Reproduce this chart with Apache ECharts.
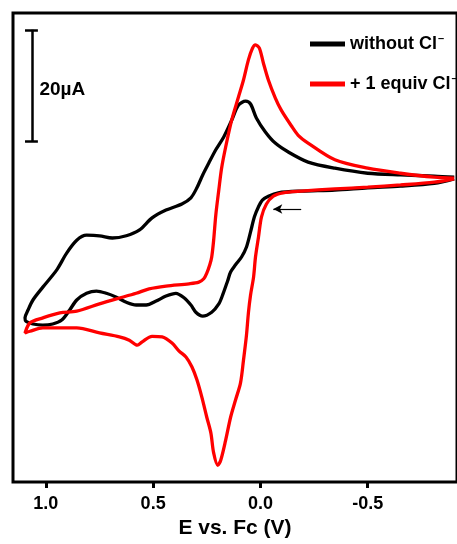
<!DOCTYPE html>
<html>
<head>
<meta charset="utf-8">
<script src="https://cdn.jsdelivr.net/npm/echarts@6/dist/echarts.min.js"></script>
<style>
  html, body { margin: 0; padding: 0; background: #fff; }
  #chart { width: 457px; height: 544px; }
</style>
</head>
<body>
<div id="chart"></div>
<script>
// potential (V vs Fc) and current (uA)
const noClE = [-0.903, -0.810, -0.653, -0.500, -0.347, -0.190, -0.083, -0.037, -0.009, 0.009, 0.028, 0.046, 0.065, 0.088, 0.116, 0.139, 0.153, 0.176, 0.194, 0.227, 0.269, 0.301, 0.324, 0.356, 0.394, 0.440, 0.486, 0.532, 0.579, 0.625, 0.671, 0.718, 0.764, 0.810, 0.856, 0.889, 0.926, 0.968, 1.014, 1.060, 1.093,
  1.097, 1.083, 1.060, 1.014, 0.949, 0.903, 0.856, 0.810, 0.750, 0.690, 0.625, 0.565, 0.505, 0.440, 0.366, 0.324, 0.296, 0.269, 0.241, 0.208, 0.171, 0.134, 0.102, 0.069, 0.046, 0.019, -0.023, -0.069, -0.130, -0.222, -0.347, -0.500, -0.653, -0.810, -0.903];
const noClI = [-6.7, -7.5, -8.0, -8.3, -8.7, -8.9, -9.2, -9.8, -10.5, -11.7, -13.5, -16.2, -18.9, -20.7, -22.1, -23.4, -25.0, -27.5, -29.1, -30.6, -31.3, -30.6, -29.3, -28.0, -27.2, -27.7, -28.6, -29.3, -29.3, -28.8, -27.9, -27.2, -26.8, -27.2, -28.4, -30.2, -32.0, -32.7, -32.9, -32.7, -32.2,
  -31.6, -30.2, -28.4, -26.1, -23.0, -20.0, -17.7, -16.8, -16.9, -17.3, -16.9, -15.9, -13.7, -12.3, -11.2, -10.1, -8.3, -6.0, -3.9, -1.5, 0.8, 3.8, 6.5, 7.2, 6.7, 4.2, 1.7, -0.3, -1.9, -3.7, -4.8, -5.7, -6.0, -6.2, -6.4];

const clE = [-0.903, -0.810, -0.653, -0.500, -0.347, -0.190, -0.106, -0.060, -0.028, -0.005, 0.009, 0.023, 0.032, 0.046, 0.056, 0.065, 0.079, 0.093, 0.116, 0.139, 0.162, 0.185, 0.199, 0.218, 0.231, 0.250, 0.273, 0.296, 0.319, 0.347, 0.380, 0.412, 0.458, 0.505, 0.551, 0.574, 0.611, 0.657, 0.750, 0.856, 1.014, 1.074, 1.097,
  1.074, 1.014, 0.935, 0.856, 0.750, 0.671, 0.579, 0.519, 0.440, 0.333, 0.287, 0.264, 0.250, 0.236, 0.227, 0.218, 0.208, 0.194, 0.181, 0.162, 0.134, 0.102, 0.079, 0.056, 0.037, 0.023, 0.005, -0.014, -0.037, -0.069, -0.097, -0.144, -0.176, -0.222, -0.347, -0.500, -0.653, -0.810, -0.903];
const clI = [-6.7, -7.3, -7.8, -8.2, -8.5, -8.9, -9.2, -9.8, -11.2, -13.5, -17.1, -20.7, -24.3, -27.5, -30.7, -34.7, -39.2, -43.3, -46.3, -49.4, -53.5, -57.1, -58.0, -55.8, -52.2, -49.4, -45.8, -42.7, -40.4, -38.6, -37.5, -36.1, -35.0, -34.9, -35.9, -36.5, -35.6, -35.0, -34.3, -33.4, -33.4, -34.0, -34.3,
  -32.5, -31.6, -30.7, -30.4, -29.1, -28.2, -27.2, -26.4, -25.9, -25.5, -25.2, -24.6, -23.6, -22.1, -20.7, -17.7, -13.2, -8.7, -4.8, -1.0, 3.8, 8.0, 11.0, 14.6, 16.7, 17.3, 16.7, 14.0, 11.0, 7.8, 5.6, 2.8, 1.1, -0.3, -3.3, -4.8, -5.7, -6.4, -6.6];

const seriesNames = ["without Cl\u207B", "+ 1 equiv Cl\u207B"];
const xTicks = [1.0, 0.5, 0.0, -0.5];

// 20 uA scale bar
const barE = 1.065;
const barCap = [1.097, 1.037];
const barI = [0, 20];
const barLabel = "20\u00B5A";
const barLabelAt = [1.030, 9.2];

// scan direction arrow
const arrowFrom = [-0.190, -12.1];
const arrowTo = [-0.060, -12.1];

const zip = (xs, ys) => xs.map((x, i) => [x, ys[i]]);
const FONT = '"Liberation Sans", Arial, Helvetica, sans-serif';

const chart = echarts.init(document.getElementById("chart"));
chart.setOption({
  backgroundColor: "#fff",
  animation: false,
  grid: {
    left: 13,
    top: 13,
    right: -3,
    bottom: 62,
    show: true,
    borderColor: "#000",
    borderWidth: 3,
  },
  legend: {
    orient: "vertical",
    left: 305,
    top: 28,
    icon: "rect",
    itemWidth: 35,
    itemHeight: 5,
    itemGap: 18,
    data: seriesNames,
    textStyle: {
      fontFamily: FONT,
      fontWeight: "bold",
      fontSize: 18,
      lineHeight: 22,
      color: "#000",
      rich: {
        sup: { fontFamily: FONT, fontWeight: "bold", fontSize: 11, color: "#000", padding: [0, 0, 11, 1] },
      },
    },
    formatter: (name) => name.replace("\u207B", "{sup|\u2013}"),
  },
  xAxis: {
    type: "value",
    inverse: true,
    min: -0.916,
    max: 1.153,
    axisLine: { show: false, onZero: false },
    splitLine: { show: false },
    axisTick: {
      show: true,
      inside: false,
      length: 6,
      customValues: xTicks,
      lineStyle: { color: "#000", width: 3 },
    },
    axisLabel: {
      customValues: xTicks,
      margin: 13,
      color: "#000",
      fontFamily: FONT,
      fontWeight: "bold",
      fontSize: 18,
      formatter: (v) => v.toFixed(1),
    },
    name: "E vs. Fc (V)",
    nameLocation: "middle",
    nameGap: 35,
    nameTextStyle: {
      color: "#000",
      fontFamily: FONT,
      fontWeight: "bold",
      fontSize: 21,
    },
  },
  yAxis: {
    type: "value",
    min: -61,
    max: 23,
    show: false,
  },
  series: [
    {
      name: seriesNames[0],
      type: "line",
      data: zip(noClE, noClI),
      showSymbol: false,
      smooth: 0.3,
      lineStyle: { color: "#000", width: 3.3 },
      itemStyle: { color: "#000" },
      markLine: {
        silent: true,
        symbol: ["none", "arrow"],
        symbolSize: [7, 9],
        label: { show: false },
        lineStyle: { color: "#000", width: 1.2, type: "solid" },
        data: [[{ coord: arrowFrom }, { coord: arrowTo }]],
      },
    },
    {
      name: seriesNames[1],
      type: "line",
      data: zip(clE, clI),
      showSymbol: false,
      smooth: 0.3,
      lineStyle: { color: "#ff0000", width: 3.3 },
      itemStyle: { color: "#ff0000" },
    },
    {
      name: "scale",
      type: "scatter",
      data: [barLabelAt],
      symbolSize: 0,
      silent: true,
      itemStyle: { opacity: 1, color: "#000" },
      label: {
        show: true,
        position: "right",
        distance: 0,
        formatter: barLabel,
        color: "#000",
        fontFamily: FONT,
        fontWeight: "bold",
        fontSize: 19,
      },
      markLine: {
        silent: true,
        symbol: ["none", "none"],
        label: { show: false },
        lineStyle: { color: "#000", width: 2.5, type: "solid" },
        data: [
          [{ coord: [barE, barI[0]] }, { coord: [barE, barI[1]] }],
          [{ coord: [barCap[0], barI[0]] }, { coord: [barCap[1], barI[0]] }],
          [{ coord: [barCap[0], barI[1]] }, { coord: [barCap[1], barI[1]] }],
        ],
      },
    },
  ],
});
</script>
</body>
</html>
